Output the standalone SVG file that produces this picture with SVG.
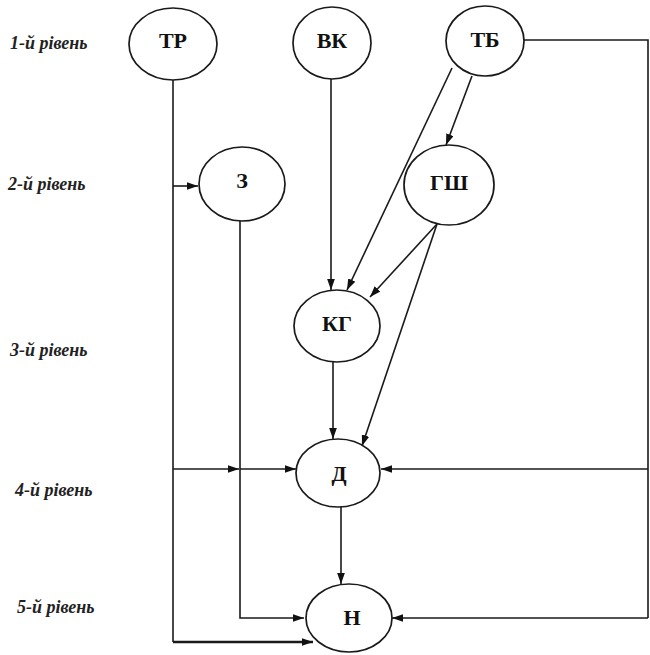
<svg xmlns="http://www.w3.org/2000/svg" width="650" height="655" viewBox="0 0 650 655">
  <style>
    .node ellipse { fill: #ffffff; stroke: #1a1a1a; stroke-width: 1.7; }
    .node text { font-family: "Liberation Serif", "Times New Roman", serif; font-weight: bold; font-size: 22px; fill: #111; text-anchor: middle; dominant-baseline: central; }
    .level { font-family: "Liberation Serif", "Times New Roman", serif; font-style: italic; font-weight: bold; font-size: 18px; fill: #222; }
    .edge { fill: none; stroke: #1a1a1a; stroke-width: 1.6; }
    .thick { stroke-width: 2.3; }
  </style>
  <defs>
    <marker id="arrow" viewBox="0 0 10 7" refX="10" refY="3.5" markerWidth="11" markerHeight="8" markerUnits="userSpaceOnUse" orient="auto">
      <path d="M0,0 L10,3.5 L0,7 z" fill="#111"/>
    </marker>
  </defs>
  <rect width="650" height="655" fill="#ffffff"/>

  <!-- level captions -->
  <g id="levels">
    <text class="level" x="10" y="49">1-й рівень</text>
    <text class="level" x="8" y="190">2-й рівень</text>
    <text class="level" x="10" y="356">3-й рівень</text>
    <text class="level" x="15" y="496">4-й рівень</text>
    <text class="level" x="17" y="613">5-й рівень</text>
  </g>

  <!-- connectors -->
  <g id="connectors">
    <!-- ТР: trunk down the left side -->
    <path class="edge" d="M173,80 V642"/>
    <path class="edge" d="M173,186 H198" marker-end="url(#arrow)"/>
    <path class="edge" d="M173,469 H239" marker-end="url(#arrow)"/>
    <path class="edge" d="M240,469 H296" marker-end="url(#arrow)"/>
    <path class="edge thick" d="M173,642 H313" marker-end="url(#arrow)"/>
    <!-- З to Н -->
    <path class="edge" d="M240,221 V618 H304" marker-end="url(#arrow)"/>
    <!-- ВК to КГ -->
    <path class="edge" d="M331,79 V290" marker-end="url(#arrow)"/>
    <!-- ТБ to ГШ and КГ -->
    <path class="edge" d="M472,76 L446,145" marker-end="url(#arrow)"/>
    <path class="edge" d="M452,68 L347,290" marker-end="url(#arrow)"/>
    <!-- ГШ to КГ and Д -->
    <path class="edge" d="M437,224 L370,297" marker-end="url(#arrow)"/>
    <path class="edge" d="M437,224 L362,446" marker-end="url(#arrow)"/>
    <!-- КГ to Д, Д to Н -->
    <path class="edge" d="M333,362 V439" marker-end="url(#arrow)"/>
    <path class="edge" d="M341,507 V584" marker-end="url(#arrow)"/>
    <!-- ТБ feedback along the right side -->
    <path class="edge" d="M524,40 H648 V618"/>
    <path class="edge" d="M648,469 H381" marker-end="url(#arrow)"/>
    <path class="edge" d="M648,618 H392" marker-end="url(#arrow)"/>
  </g>

  <!-- nodes -->
  <g id="node-TR" class="node">
    <ellipse cx="173" cy="44" rx="44" ry="36"/>
    <text x="173" y="40">ТР</text>
  </g>
  <g id="node-VK" class="node">
    <ellipse cx="332" cy="43" rx="39" ry="36"/>
    <text x="332" y="40">ВК</text>
  </g>
  <g id="node-TB" class="node">
    <ellipse cx="485" cy="41" rx="39" ry="35"/>
    <text x="485" y="39">ТБ</text>
  </g>
  <g id="node-Z" class="node">
    <ellipse cx="242" cy="184" rx="43" ry="37"/>
    <text x="242" y="180">З</text>
  </g>
  <g id="node-GSh" class="node">
    <ellipse cx="449" cy="185" rx="45" ry="40"/>
    <text x="449" y="182">ГШ</text>
  </g>
  <g id="node-KG" class="node">
    <ellipse cx="337" cy="326" rx="43" ry="36"/>
    <text x="337" y="323">КГ</text>
  </g>
  <g id="node-D" class="node">
    <ellipse cx="338" cy="473" rx="42" ry="34"/>
    <text x="339" y="473">Д</text>
  </g>
  <g id="node-N" class="node">
    <ellipse cx="349" cy="618" rx="43" ry="34"/>
    <text x="352" y="617">Н</text>
  </g>
</svg>
